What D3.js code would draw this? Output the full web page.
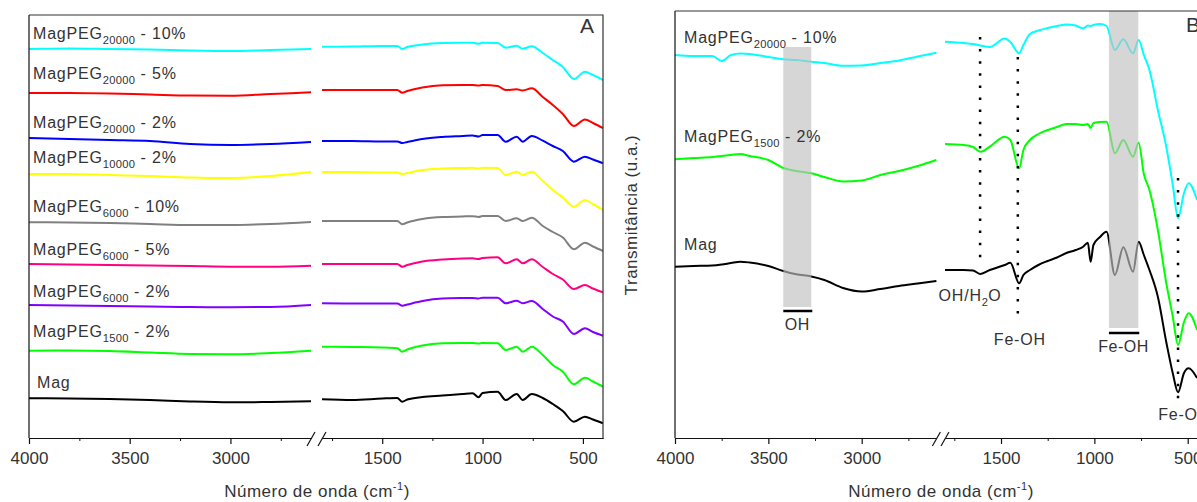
<!DOCTYPE html>
<html>
<head>
<meta charset="utf-8">
<script src="https://cdn.jsdelivr.net/npm/d3@7"></script>
<style>
  body { margin: 0; background: #fff; }
  svg { display: block; }
  text { font-family: "Liberation Sans", Arial, sans-serif; fill: #333; }
</style>
</head>
<body>
<svg id="chart" width="1197" height="502"></svg>
<script>
// ---- panel A data (wavenumber in cm-1, transmittance in a.u., offset stacked) ----
const wavenumbersA = [4000, 3800, 3600, 3400, 3200, 3000, 2800, 2600,
	1800, 1650, 1500, 1425, 1400, 1375, 1300, 1200, 1100, 1050, 1020, 1000, 925, 885, 830, 800, 755, 700, 650, 600, 545, 490, 450, 400];

const magPEG20000_10 = [389, 389.5, 389, 388.5, 387.5, 387, 388, 389,
	391.3, 391.5, 392, 392, 389, 391, 393.5, 395, 395.3, 395.3, 394.3, 395.3, 395, 390.3, 392.3, 389.3, 391.7, 385, 378, 371, 359, 366.3, 363, 358];
const magPEG20000_5 = [345, 345, 344.5, 343.5, 342.5, 342.3, 344, 345.7,
	348, 348, 348, 348, 345.3, 347, 350.5, 352.7, 353, 353, 352.5, 353, 352, 348, 348.7, 347.5, 349.7, 341, 333, 324, 312, 318.5, 315, 310];
const magPEG20000_2 = [300, 299, 298, 297, 294, 293, 294, 296,
	297, 297, 296.5, 296.5, 295, 296, 299, 301, 302, 302.5, 301.5, 303, 303, 296.3, 301.3, 296.3, 302, 297.3, 292, 287, 276.3, 281.3, 278.5, 274.7];
const magPEG10000_2 = [264, 264, 263, 262, 260.5, 260, 262, 266,
	266, 266, 265.5, 265.5, 264, 265, 268, 269.5, 270, 270.2, 269.5, 270.3, 270, 263, 266.3, 263, 266.3, 257, 248, 240.5, 231.3, 238, 234, 228];
const magPEG6000_10 = [215.7, 215.5, 215, 214, 213, 213, 214, 216,
	217, 217, 217, 217, 213.7, 215.5, 219, 221, 221.5, 221.8, 221, 222, 222, 217, 219.7, 217, 220.3, 212, 206, 200.5, 188.7, 195.3, 191.5, 187];
const magPEG6000_5 = [174, 173.5, 173, 172.5, 172, 171.3, 171.3, 172.3,
	174, 174, 174, 174, 171.3, 173, 176.5, 178.5, 179.5, 179.7, 179, 180, 180.7, 174.7, 178.7, 174.7, 178.7, 171, 164, 158.5, 149, 153, 149.5, 145.7];
const magPEG6000_2 = [133, 132.5, 132, 131.5, 131, 130.7, 131, 133,
	134.7, 134.5, 134.5, 134.5, 132.3, 133.5, 137, 139.5, 140, 140.1, 139.5, 140.2, 140.3, 134.7, 137.3, 134.7, 137, 129, 121.5, 116.5, 104, 109.7, 106, 102.3];
const magPEG1500_2 = [87.3, 87.5, 87, 85.5, 84, 83.7, 85, 87.3,
	91.3, 91, 90.5, 89.7, 86.3, 88.5, 92.5, 94.7, 95, 95, 94.5, 95, 94.7, 88, 91.3, 86.3, 91.3, 83, 73, 66.3, 53.7, 60.3, 56.5, 51.3];
const mag = [39.7, 39.5, 39, 38, 36.5, 35.7, 36, 36.7,
	38.7, 38, 39.5, 40, 36.3, 38.5, 41, 42.5, 44, 44.7, 40.7, 45, 46.3, 38, 44, 38, 44, 40, 34, 27, 16.3, 21.3, 18.5, 14.7];

const labelsA = [["MagPEG", "20000", " - 10%"], ["MagPEG", "20000", " - 5%"], ["MagPEG", "20000", " - 2%"],
	["MagPEG", "10000", " - 2%"], ["MagPEG", "6000", " - 10%"], ["MagPEG", "6000", " - 5%"],
	["MagPEG", "6000", " - 2%"], ["MagPEG", "1500", " - 2%"], ["Mag", "", ""]];
const valuesA = [magPEG20000_10, magPEG20000_5, magPEG20000_2, magPEG10000_2, magPEG6000_10,
	magPEG6000_5, magPEG6000_2, magPEG1500_2, mag];
const colorsA = ["#00ffff", "#ff0000", "#0000ff", "#ffff00", "#808080", "#ff0080", "#8000ff", "#00ff00", "#000000"];

// ---- panel B data ----
const wavenumbersB = [4000, 3900, 3800, 3750, 3700, 3650, 3600, 3500, 3420, 3350, 3270, 3200, 3100, 3000, 2900, 2800, 2700, 2600,
	1800, 1700, 1650, 1610, 1560, 1480, 1450, 1403, 1380, 1345, 1300, 1250, 1200, 1150, 1100, 1060, 1035, 1020, 1005,
	970, 935, 890, 845, 793, 763, 735, 705, 660, 615, 580, 552, 520, 495, 450];

const magPEG20000_10B = [383, 382, 382, 377, 383, 384.5, 384, 381, 378.7, 378, 376.3, 375, 372.3, 372.5, 375, 377.5, 381.5, 385.3,
	396.3, 395, 394, 392.5, 391, 399.5, 396, 384.7, 393, 404, 407.5, 410, 412, 413.5, 412.5, 409.7, 412.5, 412, 413,
	414, 412, 388, 398.7, 384.7, 398, 383, 368, 328, 291.3, 253, 219.7, 245, 254.7, 238];
const magPEG1500_2B = [278.7, 280, 281, 282, 283, 284, 282, 278, 270, 267, 264.7, 261, 256.5, 257.5, 263, 267, 272, 278,
	294, 293, 291, 286.3, 291.3, 301.3, 298, 269.7, 288, 298, 304, 308, 311, 314, 314, 313, 314, 310, 315,
	316, 316.3, 284.7, 298, 281.3, 295.3, 264, 248, 208, 155, 121.3, 93, 116, 124.7, 108];
const magB = [171.3, 172, 172.5, 173.5, 175, 176.3, 175.5, 172, 167, 163.7, 161.5, 158, 150, 146.5, 149, 152, 154.5, 157,
	168, 168, 167.5, 164, 168, 173, 175.3, 154.7, 163, 168, 173, 177, 180.5, 185, 188, 191.3, 195.3, 176.3, 193,
	201, 206.3, 163, 190.7, 166.3, 196.3, 183, 168, 141.3, 96, 64.7, 45.7, 65, 69.7, 60];

const labelsB = [["MagPEG", "20000", " - 10%"], ["MagPEG", "1500", " - 2%"], ["Mag", "", ""]];
const valuesB = [magPEG20000_10B, magPEG1500_2B, magB];
const colorsB = ["#00ffff", "#00ff00", "#000000"];

// assignment bands and peak lines (cm-1)
const bandsB = [[3420, 3270], [922, 765]];
const bandNamesB = ["OH", "Fe-OH"];
const peakLinesB = [1612, 1410, 552];
const peakNamesB = [["OH/H", "2", "O"], ["Fe-OH", "", ""], ["Fe-O", "", ""]];

const majorLeft = [4000, 3500, 3000], minorLeft = [3750, 3250, 2750];
const majorRight = [1500, 1000, 500], minorRight = [1750, 1250, 750];

const svg = d3.select("#chart");

function makePanel(p) {
	const g = svg.append("g");
	return {
		g, top: p.top, bottom: p.bottom, left: p.xl[0],
		xL: d3.scaleLinear().domain([4000, 2600]).range(p.xl),
		xR: d3.scaleLinear().domain([1800, 400]).range(p.xr),
		y: d3.scaleLinear().domain([0, p.bottom - p.top]).range([p.bottom, p.top])
	};
}

function drawSpectrum(P, wn, vals, color) {
	const pts = wn.map((w, i) => [w, vals[i]]);
	[[pts.filter(d => d[0] >= 2600), P.xL], [pts.filter(d => d[0] <= 1800), P.xR]].forEach(([d, x]) => {
		P.g.append("path")
			.datum(d)
			.attr("d", d3.line().x(p => x(p[0])).y(p => P.y(p[1])).curve(d3.curveMonotoneX))
			.attr("fill", "none")
			.attr("stroke", color)
			.attr("stroke-width", 2)
			.attr("stroke-linejoin", "round");
	});
}

function addLabel(g, x, y, parts, size, anchor) {
	const t = g.append("text")
		.attr("x", x).attr("y", y)
		.attr("font-size", size)
		.attr("letter-spacing", "0.8px")
		.attr("text-anchor", anchor || "start");
	t.append("tspan").text(parts[0]);
	if (parts[1]) {
		t.append("tspan").attr("font-size", size * 0.7).attr("dy", 5).attr("letter-spacing", "0.3px").text(parts[1]);
		t.append("tspan").attr("dy", -5).text(parts[2]);
	}
	return t;
}

function drawAxes(P, titleX) {
	[[P.xL, majorLeft, minorLeft], [P.xR, majorRight, minorRight]].forEach(([x, major, minor]) => {
		P.g.append("g")
			.attr("transform", `translate(0,${P.bottom})`)
			.call(d3.axisBottom(x).tickValues(minor).tickSize(3).tickSizeOuter(0).tickFormat(""))
			.attr("color", "#111");
		const ax = P.g.append("g")
			.attr("transform", `translate(0,${P.bottom})`)
			.call(d3.axisBottom(x).tickValues(major).tickSize(6).tickSizeOuter(0).tickPadding(8).tickFormat(d3.format("d")))
			.attr("color", "#111");
		ax.selectAll("text")
			.attr("font-size", 17)
			.attr("font-family", "'Liberation Sans', Arial, sans-serif")
			.style("fill", "#333");
		ax.selectAll("path, line").attr("stroke-width", 1.2);
	});
	// axis break marks
	[P.xL.range()[1], P.xR.range()[0]].forEach(bx => {
		P.g.append("line")
			.attr("x1", bx - 4).attr("y1", P.bottom + 8)
			.attr("x2", bx + 4).attr("y2", P.bottom - 6)
			.attr("stroke", "#111").attr("stroke-width", 1.2);
	});
	// y axis
	P.g.append("line")
		.attr("x1", P.left).attr("x2", P.left)
		.attr("y1", P.top).attr("y2", P.bottom)
		.attr("stroke", "#111").attr("stroke-width", 1.2);
	// x title
	const t = P.g.append("text")
		.attr("x", titleX).attr("y", 497)
		.attr("text-anchor", "middle")
		.attr("font-size", 17)
		.attr("letter-spacing", "0.5px");
	t.append("tspan").text("Número de onda (cm");
	t.append("tspan").attr("font-size", 11).attr("dy", -7).text("-1");
	t.append("tspan").attr("dy", 7).text(")");
}

// ---- Panel A ----
const A = makePanel({ xl: [29, 311], xr: [322, 603], top: 15, bottom: 438 });
valuesA.forEach((v, i) => drawSpectrum(A, wavenumbersA, v, colorsA[i]));
drawAxes(A, 317);
A.g.append("path")
	.attr("d", `M29,15H603V438`)
	.attr("fill", "none").attr("stroke", "#333").attr("stroke-width", 1.2);
const labelBaseA = [39, 79, 128, 163, 212, 255, 297, 337, 388];
labelsA.forEach((l, i) => addLabel(A.g, i === 8 ? 37 : 33, labelBaseA[i], l, 16));
A.g.append("text").attr("x", 580).attr("y", 33).attr("font-size", 21).text("A");

// ---- Panel B ----
const B = makePanel({ xl: [675, 936.4], xr: [945, 1206.4], top: 11, bottom: 438 });
valuesB.forEach((v, i) => drawSpectrum(B, wavenumbersB, v, colorsB[i]));

// shaded bands drawn over the spectra
const bandExtent = [[391, 131], [427, 110]];
const bandBar = [127, 105];
bandsB.forEach((b, i) => {
	const x = i === 0 ? B.xL : B.xR;
	const x0 = x(b[0]), x1 = x(b[1]);
	B.g.append("rect")
		.attr("x", x0).attr("width", x1 - x0)
		.attr("y", B.y(bandExtent[i][0]))
		.attr("height", B.y(bandExtent[i][1]) - B.y(bandExtent[i][0]))
		.attr("fill", "#c0c0c0").attr("opacity", 0.65);
	B.g.append("line")
		.attr("x1", x0).attr("x2", x1 + 1)
		.attr("y1", B.y(bandBar[i])).attr("y2", B.y(bandBar[i]))
		.attr("stroke", "#000").attr("stroke-width", 2.5);
	B.g.append("text")
		.attr("x", (x0 + x1) / 2).attr("y", B.y(bandBar[i]) + 19)
		.attr("text-anchor", "middle").attr("font-size", 16).attr("letter-spacing", "0.5px")
		.text(bandNamesB[i]);
});

// dotted peak lines
const peakExtent = [[401, 176], [381, 123], [260, 37]];
const peakLabelY = [301, 345, 420];
const peakLabelDx = [-10, 2, 0];
peakLinesB.forEach((w, i) => {
	const x = B.xR(w);
	B.g.append("line")
		.attr("x1", x).attr("x2", x)
		.attr("y1", B.y(peakExtent[i][0])).attr("y2", B.y(peakExtent[i][1]))
		.attr("stroke", "#000").attr("stroke-width", 2.5)
		.attr("stroke-dasharray", "2.5 9.6");
	addLabel(B.g, x + peakLabelDx[i], peakLabelY[i], peakNamesB[i], 16, "middle");
});

drawAxes(B, 941);
B.g.append("line")
	.attr("x1", 675).attr("x2", 1197).attr("y1", 11).attr("y2", 11)
	.attr("stroke", "#333").attr("stroke-width", 1.2);
const labelBaseB = [43, 142, 250];
labelsB.forEach((l, i) => addLabel(B.g, 684, labelBaseB[i], l, 16));
B.g.append("text").attr("x", 1186).attr("y", 32).attr("font-size", 21).text("B");
B.g.append("text")
	.attr("transform", "translate(637,215) rotate(-90)")
	.attr("text-anchor", "middle")
	.attr("font-size", 17)
	.attr("letter-spacing", "0.5px")
	.text("Transmitância (u.a.)");
</script>
</body>
</html>
